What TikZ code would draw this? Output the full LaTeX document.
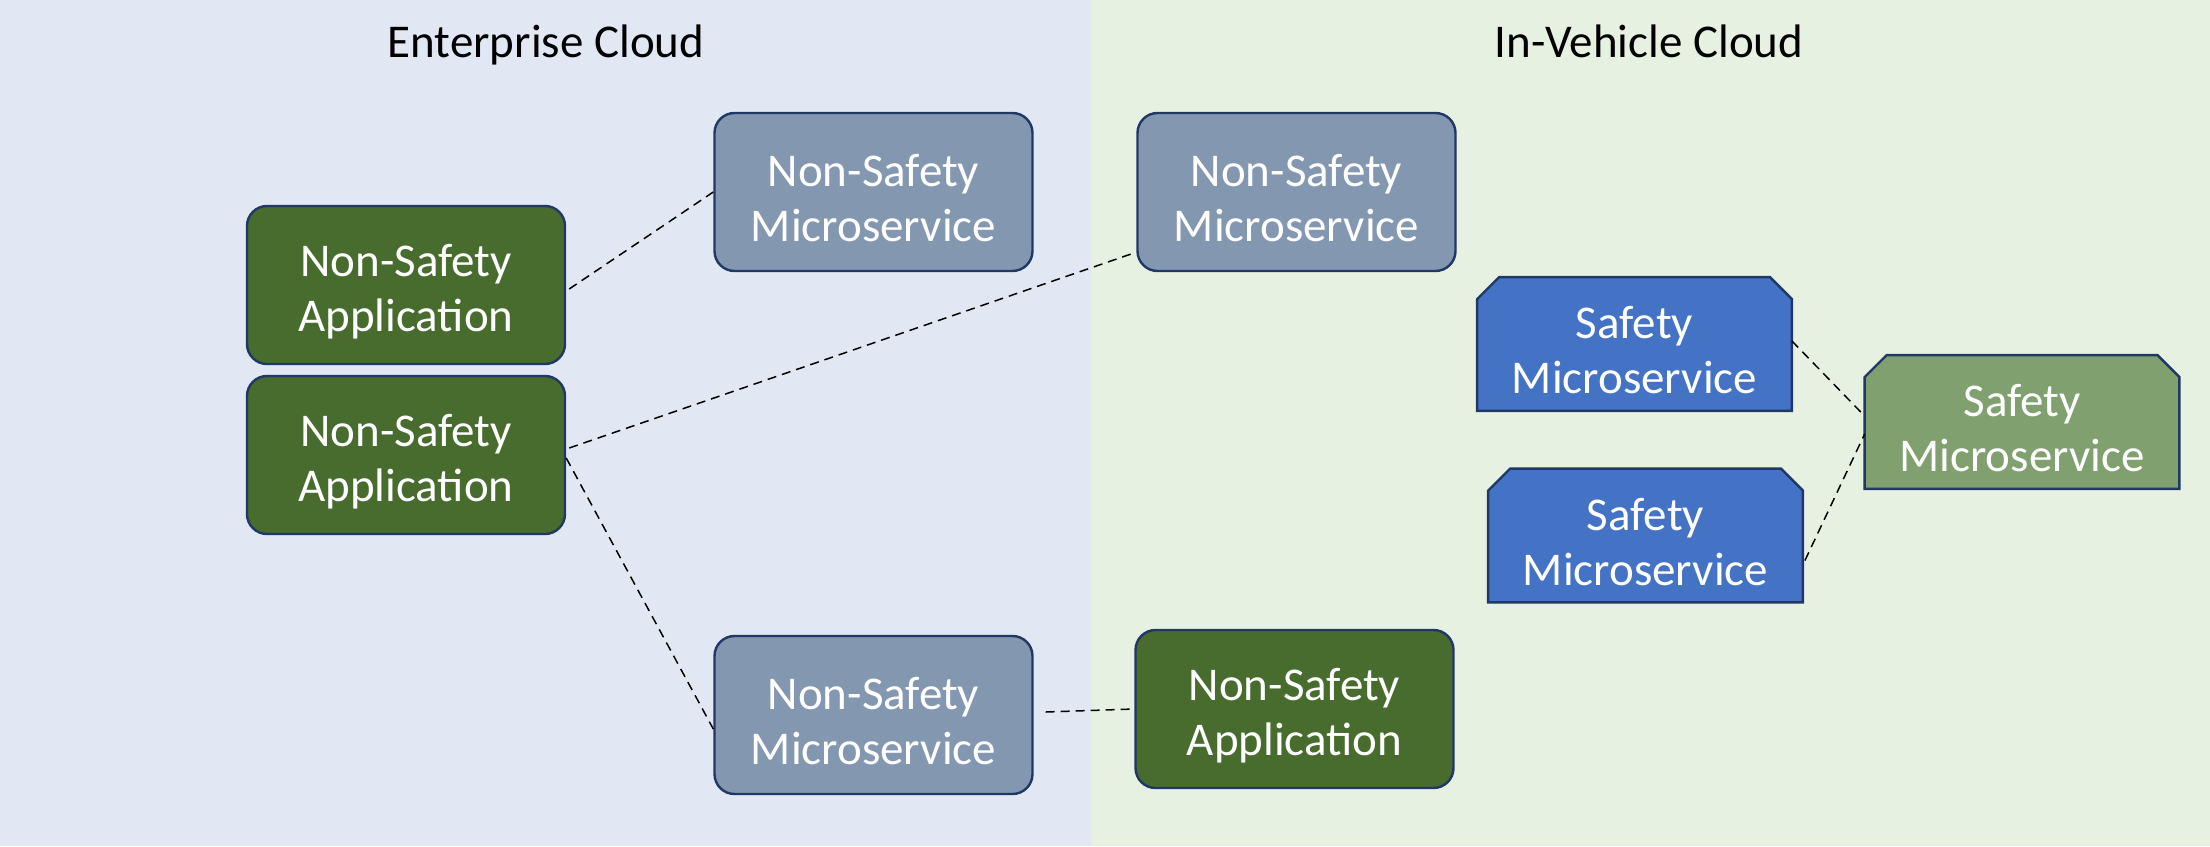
\documentclass[tikz,border=0pt]{standalone}
\usepackage{fontspec}
\setmainfont{Carlito}
\usetikzlibrary{calc}
\definecolor{entbg}{HTML}{E1E7F3}
\definecolor{vehbg}{HTML}{E7F1E1}
\definecolor{appgreen}{HTML}{486B2E}
\definecolor{nsmgray}{HTML}{8497B0}
\definecolor{safblue}{HTML}{4472C4}
\definecolor{safgreen}{HTML}{80A070}
\definecolor{edgeblue}{HTML}{1F3864}
\pgfdeclarelayer{bottom}
\pgfdeclarelayer{background}
\pgfsetlayers{bottom,background,main}
\newcommand{\twolines}[2]{\rule{0pt}{22.5pt}#1\\#2}
\newcommand{\snipshape}[2]{%
  \begin{pgfonlayer}{background}
    \filldraw[fill=#2, draw=edgeblue, line width=1.2pt, line join=miter]
      (#1.south west) -- ($(#1.north west)+(0pt,-11pt)$) -- ($(#1.north west)+(11pt,0pt)$)
      -- ($(#1.north east)+(-11pt,0pt)$) -- ($(#1.north east)+(0pt,-11pt)$)
      -- (#1.south east) -- cycle;
  \end{pgfonlayer}}
\tikzset{
  boxtext/.style={font=\fontsize{23.5}{27.5}\selectfont, text=white, align=center, inner sep=0pt},
  roundbox/.style={boxtext, rectangle, rounded corners=10pt, draw=edgeblue, line width=1.2pt,
                   minimum width=159pt, minimum height=79pt},
  appbox/.style={roundbox, fill=appgreen},
  nsmbox/.style={roundbox, fill=nsmgray},
  snipbox/.style={boxtext, rectangle, minimum width=157pt, minimum height=66.5pt},
  link/.style={draw=black, line width=0.75pt, dash pattern=on 4.5pt off 3pt},
  title/.style={font=\fontsize{23.5}{26.5}\selectfont, text=black, anchor=base, inner sep=0pt}
}
\begin{document}
\begin{tikzpicture}[x=0.5pt, y=-0.5pt]
  % backgrounds
  \begin{pgfonlayer}{bottom}
    \fill[entbg] (0,0) rectangle (1091,846);
    \fill[vehbg] (1091,0) rectangle (2210,846);
  \end{pgfonlayer}
  \useasboundingbox (0,0) rectangle (2210,846);

  % titles
  \node[title] (t1) at (546,57) {Enterprise Cloud};
  \node[title] (t2) at (1649,57) {In-Vehicle Cloud};

  % nodes
  \node[appbox] (nsa1) at (406,285) {\twolines{Non-Safety}{Application}};
  \node[appbox] (nsa2) at (406,455) {\twolines{Non-Safety}{Application}};
  \node[nsmbox] (nsm1) at (873.5,192) {\twolines{Non-Safety}{Microservice}};
  \node[nsmbox] (nsm2) at (1296.5,192) {\twolines{Non-Safety}{Microservice}};
  \node[nsmbox] (nsm3) at (873.5,715) {\twolines{Non-Safety}{Microservice}};
  \node[appbox] (nsa3) at (1294.5,709) {\twolines{Non-Safety}{Application}};
  \node[snipbox] (saf1) at (1634.5,344) {\twolines{Safety}{Microservice}};
  \node[snipbox] (saf2) at (1645.5,535.5) {\twolines{Safety}{Microservice}};
  \node[snipbox] (safg) at (2022,422) {\twolines{Safety}{Microservice}};
  \snipshape{saf1}{safblue}
  \snipshape{saf2}{safblue}
  \snipshape{safg}{safgreen}

  % connectors
  \draw[link] ($(nsa1.east)+(3,4)$) -- (nsm1.west);
  \draw[link] ($(nsa2.east)+(3,-7)$) -- ($(nsm2.south west)+(0,-20)$);
  \draw[link] ($(nsa2.east)+(0,3)$) -- ($(nsm3.west)+(0,14)$);
  \draw[link] ($(nsm3.east)+(12,-3)$) -- (nsa3.west);
  \draw[link] ($(saf1.east)+(0,-3)$) -- ($(safg.west)+(0,-6)$);
  \draw[link] ($(saf2.east)+(2,25)$) -- ($(safg.west)+(0,12)$);
\end{tikzpicture}
\end{document}
